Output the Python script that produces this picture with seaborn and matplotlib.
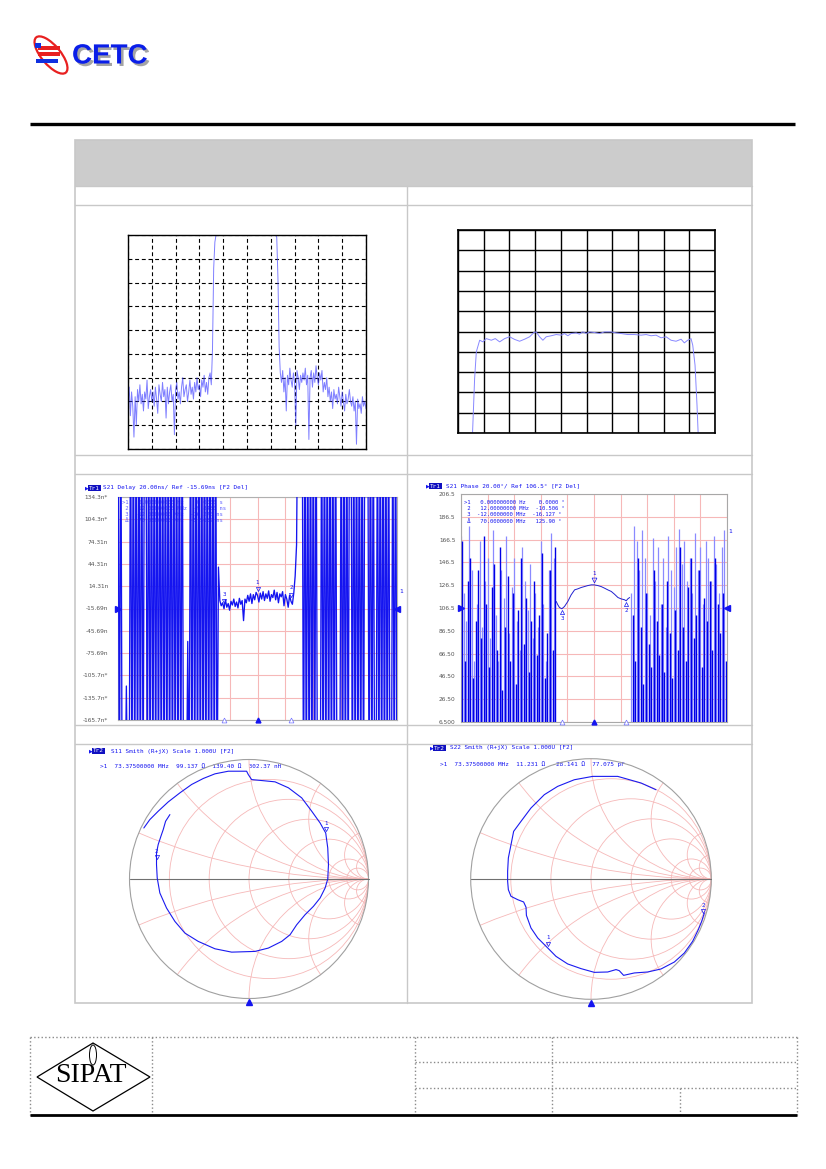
import numpy as np
import matplotlib
matplotlib.use("Agg")
import matplotlib.pyplot as plt
import matplotlib.patheffects as pe
from matplotlib.patches import Circle, Rectangle, Ellipse, Polygon
import seaborn as sns

# ---------------- DATA ----------------
# Panel A: wideband S21 (dB), 10 MHz/div, 20..120 MHz
wb_left_start = 20.0
wb_left_db = [-70, -64, -76, -66, -72, -85, -68, -80, -65, -70,
              -63, -71, -67, -74, -66, -69, -61, -73, -68, -65,
              -70, -66, -72, -64, -69, -75, -63, -67, -70, -62,
              -68, -65, -77, -64, -71, -66, -63, -70, -67, -84,
              -65, -62, -69, -66, -71, -64, -60, -68, -65, -63,
              -70, -66, -61, -67, -64, -69, -62, -66, -60, -65,
              -63, -68, -61, -64, -59, -66, -62, -67, -60, -58, -63]
wb_pass_mhz = [55.5, 56.0, 56.5, 57.0, 60.0, 65.0, 70.0, 75.0, 80.0, 82.0, 82.5, 83.0, 83.5]
wb_pass_db = [-48, -14, -3, 0.1, 0.2, 0.1, 0.25, 0.1, 0.2, 0.1, -1.0, -18, -47]
wb_right_start = 84.0
wb_right_db = [-58, -62, -57, -66, -60, -74, -59, -63, -56, -61,
               -64, -58, -62, -80, -57, -60, -65, -59, -62, -58,
               -61, -56, -63, -59, -86, -60, -57, -64, -58, -62,
               -55, -60, -63, -58, -61, -57, -66, -62, -65, -60,
               -68, -64, -70, -66, -73, -65, -69, -67, -71, -64,
               -68, -72, -66, -70, -74, -67, -71, -69, -65, -70,
               -72, -68, -74, -70, -88, -69, -73, -71, -75, -68,
               -72, -70, -73]

# Panel B: passband S21 (dB), 3 MHz/div, 1 dB/div
pb_mhz = [56.67, 56.94, 57.14, 57.53, 57.91, 58.30, 58.89, 59.35, 59.86, 60.44,
          61.02, 61.61, 62.19, 62.77, 63.36, 63.86, 64.13, 64.52, 64.91, 65.30,
          65.88, 66.46, 67.05, 67.44, 67.82, 68.21, 68.80, 69.18, 69.57, 69.96,
          70.35, 70.93, 71.52, 72.10, 72.88, 73.46, 74.04, 74.82, 75.60, 76.37,
          76.96, 77.54, 78.12, 78.70, 79.29, 79.87, 80.45, 81.04, 81.42, 81.81,
          82.20, 82.40, 82.67, 82.90, 83.06]
pb_db = [-5.3, -2.32, -1.0, -0.43, -0.51, -0.35, -0.43, -0.35, -0.51, -0.35,
         -0.26, -0.39, -0.48, -0.38, -0.26, -0.05, -0.02, -0.26, -0.43, -0.26,
         -0.21, -0.15, -0.18, -0.10, -0.21, -0.10, -0.07, -0.13, -0.02, -0.10,
         -0.02, -0.05, -0.10, -0.02, -0.02, -0.07, -0.10, -0.15, -0.15, -0.18,
         -0.15, -0.21, -0.18, -0.31, -0.26, -0.43, -0.48, -0.38, -0.56, -0.43,
         -0.35, -0.67, -1.66, -3.63, -5.3]

# Panel C: S21 group delay (ns) vs offset frequency (MHz)
dl_left_start = -50.0
dl_left_ns = [300, -300, 300, -300, -300, -300, -120, -300, -300, 300,
              -300, 300, -300, 300, -300, 300, -300, 300, -300, 300,
              300, -300, 300, -300, 300, -300, 300, -300, 300, -300,
              300, -300, 300, -300, 300, -300, 300, -300, 300, -300,
              300, -300, 300, -300, 300, -300, 300, -300, -300, -300,
              -60, -300, 300, -300, 300, -300, 300, -300, 300, -300,
              300, -300, 300, -300, 300, -300, 300, -300, 300, -300,
              300, -300]
dl_mid_start = -14.0
dl_mid_ns = [40, -5, -12, -8, -16, -4, -14, -9, -18, -6,
             -11, -3, -13, -7, -15, -2, -10, -5, -32, -3,
             -8, 2, -6, 4, -9, 3, -4, 6, 2, -7,
             5, -3, 7, -5, 4, -2, 8, -6, 3, -1,
             9, -4, 6, -8, 4, 0, 7, -12, 3, -3,
             -14, 2, -6, -10, 5, 28]
dl_right_start = 14.0
dl_right_ns = [70, 300, 300, 300, 300, -300, 300, -300, 300, -300,
               300, -300, 300, -300, 300, -300, -300, -300, 300, -300,
               300, -300, 300, -300, 300, -300, 300, -300, 300, -300,
               -300, -300, 300, -300, 300, -300, 300, -300, 300, 300,
               -300, 300, -300, 300, -300, 300, -300, 300, -300, 300,
               300, 300, -300, 300, -300, 300, -300, -300, 300, -300,
               300, -300, 300, -300, 300, -300, 300, -300, -300, 300,
               -300, 300, -300]
dl_ticks = [134.31, 104.31, 74.31, 44.31, 14.31, -15.69, -45.69, -75.69, -105.69, -135.69, -165.69]
dl_labels = ["134.3n*", "104.3n*", "74.31n", "44.31n", "14.31n", "-15.69n",
             "-45.69n", "-75.69n", "-105.7n*", "-135.7n*", "-165.7n*"]
dl_ref = -15.69
dl_marker_mhz = [-12.0, 0.0, 12.0]
dl_marker_ns = [-14.0, 2.0, -5.0]
dl_marker_names = ["3", "1", "2"]
dl_table = [">1   0.000000000 Hz    0.0000 s",
            " 2   12.00000000 MHz  -9.8480 ns",
            " 3  -12.0000000 MHz  -16.270 ns",
            " \u0394   70.0000000 MHz  -5.5632 ns"]

# Panel D: S21 phase (deg) vs offset frequency (MHz)
ph_dark_left_start = -49.5
ph_dark_left = [165, 60, 130, 150, 45, 95, 140, 80, 170, 110, 55, 125, 145, 70, 160, 35, 90, 135,
                60, 120, 40, 105, 150, 75, 115, 50, 95, 130, 65, 100, 155, 45, 85, 140, 70, 160]
ph_light_left_start = -50.0
ph_light_left = [170, 120, 95, 178, 140, 60, 110, 165, 90, 130, 150, 80, 175, 100, 60, 140, 115, 170,
                 85, 125, 150, 95, 70, 160, 130, 105, 145, 80, 120, 90, 165, 110, 60, 140, 172, 150]
ph_dark_right_start = 14.5
ph_dark_right = [100, 60, 150, 90, 40, 120, 75, 55, 140, 95, 65, 110, 50, 130, 85, 45, 105, 70,
                 160, 90, 60, 125, 150, 80, 100, 140, 55, 115, 95, 130, 70, 150, 110, 85, 120, 60]
ph_light_right_start = 14.0
ph_light_right = [120, 178, 165, 140, 175, 150, 120, 100, 168, 130, 160, 110, 150, 90, 170, 140, 125, 160,
                  176, 145, 165, 130, 150, 120, 172, 140, 160, 110, 165, 150, 130, 170, 145, 120, 160, 175]
ph_mid_mhz = [-14.2, -13.6, -13.0, -12.1, -11.1, -9.85, -8.6, -7.3, -6.1, -4.8, -3.6, -2.3, -1.0,
              0.0, 1.4, 2.7, 3.95, 5.2, 6.5, 7.7, 9.0, 10.2, 11.5, 12.1, 12.7, 13.4]
ph_mid_deg = [112.2, 109.3, 107.0, 105.8, 107.8, 112.2, 118.0, 122.4, 123.3, 124.5, 125.3, 126.2, 126.8,
              126.8, 126.2, 125.3, 123.9, 122.4, 121.0, 118.6, 115.7, 114.5, 113.7, 112.8, 114.5, 115.7]
ph_ticks = [206.5, 186.5, 166.5, 146.5, 126.5, 106.5, 86.5, 66.5, 46.5, 26.5, 6.5]
ph_labels = ["206.5", "186.5", "166.5", "146.5", "126.5", "106.5", "86.50", "66.50", "46.50", "26.50", "6.500"]
ph_ref = 106.5
ph_marker_mhz = [-12.0, 0.0, 12.0]
ph_marker_deg = [105.8, 126.8, 112.8]
ph_marker_names = ["3", "1", "2"]
ph_table = [">1   0.000000000 Hz    0.0000 \u00b0",
            " 2   12.00000000 MHz  -10.506 \u00b0",
            " 3  -12.0000000 MHz  -16.127 \u00b0",
            " \u0394   70.0000000 MHz   125.90 \u00b0"]

# Panel E/F: Smith charts (reflection coefficient)
s11_re = [-0.880, -0.830, -0.760, -0.676, -0.578, -0.480, -0.383, -0.285, -0.173, -0.020, -0.006, 0.022,
          0.106, 0.218, 0.330, 0.441, 0.525, 0.595, 0.642, 0.659, 0.665, 0.659, 0.637, 0.595, 0.539,
          0.469, 0.399, 0.344, 0.274, 0.162, 0.050, -0.145, -0.285, -0.425, -0.536, -0.620, -0.690,
          -0.746, -0.768, -0.774, -0.774, -0.760, -0.737, -0.718, -0.698, -0.662]
s11_im = [0.427, 0.497, 0.567, 0.645, 0.721, 0.791, 0.841, 0.880, 0.902, 0.902, 0.874, 0.832,
          0.824, 0.813, 0.763, 0.679, 0.567, 0.469, 0.385, 0.260, 0.120, 0.0, -0.075, -0.159, -0.229,
          -0.299, -0.383, -0.466, -0.522, -0.578, -0.606, -0.612, -0.584, -0.522, -0.453, -0.355, -0.243,
          -0.117, 0.008, 0.120, 0.218, 0.288, 0.358, 0.413, 0.483, 0.539]
s11_mk_re = [0.642, -0.774]
s11_mk_im = [0.385, 0.150]
s11_mk_names = ["1", "2"]
s22_re = [0.540, 0.416, 0.222, 0.014, -0.139, -0.277, -0.388, -0.499, -0.582, -0.643, -0.665, -0.687,
          -0.693, -0.693, -0.687, -0.665, -0.609, -0.560, -0.540, -0.537, -0.499, -0.443, -0.360, -0.291,
          -0.194, -0.083, 0.028, 0.139, 0.208, 0.235, 0.271, 0.360, 0.471, 0.582, 0.693, 0.776, 0.845,
          0.892, 0.920, 0.942]
s22_im = [0.742, 0.798, 0.853, 0.853, 0.825, 0.770, 0.701, 0.590, 0.479, 0.396, 0.285, 0.175,
          0.064, -0.019, -0.089, -0.144, -0.172, -0.191, -0.235, -0.302, -0.407, -0.490, -0.573, -0.643,
          -0.706, -0.745, -0.776, -0.773, -0.753, -0.762, -0.801, -0.781, -0.773, -0.748, -0.690, -0.615,
          -0.518, -0.421, -0.352, -0.283]
s22_mk_re = [-0.355, 0.935]
s22_mk_im = [-0.568, -0.300]
s22_mk_names = ["1", "2"]
smith_r = [0.2, 0.5, 1.0, 2.0, 5.0, 10.0]
smith_x = [0.2, 0.5, 1.0, 2.0, 5.0, 10.0]

s11_header = "S11 Smith (R+jX) Scale 1.000U [F2]"
s11_marker = ">1  73.37500000 MHz  99.137 \u03a9  139.40 \u03a9  302.37 nH"
s22_header = "S22 Smith (R+jX) Scale 1.000U [F2]"
s22_marker = ">1  73.37500000 MHz  11.231 \u03a9  -28.141 \u03a9  77.075 pF"
dl_header = "S21 Delay 20.00ns/ Ref -15.69ns [F2 Del]"
ph_header = "S21 Phase 20.00\u00b0/ Ref 106.5\u00b0 [F2 Del]"

# ---------------- FIGURE ----------------
sns.set_theme(style="white")
plt.rcParams["font.family"] = ["DejaVu Sans"]
W, H = 826, 1169
fig = plt.figure(figsize=(W / 100, H / 100), dpi=100, facecolor="white")
MONO = "DejaVu Sans Mono"
BLUE = "#1414f0"
PINK = "#f6b8b8"


def add_px(x0, y0, x1, y1, **kw):
    return fig.add_axes([x0 / W, 1 - y1 / H, (x1 - x0) / W, (y1 - y0) / H], **kw)


def series(start, vals, step):
    return start + step * np.arange(len(vals))


# overlay for page decoration
ov = add_px(0, 0, W, H)
ov.set_xlim(0, W)
ov.set_ylim(H, 0)
ov.axis("off")

# CETC logo
ov.add_patch(Ellipse((51, 55), 46, 19, angle=50, fill=False, ec="#e82020", lw=1.6))
ov.add_patch(Rectangle((38, 46), 22, 4, fc="#e82020", ec="none"))
ov.add_patch(Rectangle((38, 52), 22, 4, fc="#e82020", ec="none"))
ov.add_patch(Rectangle((36, 58.5), 22, 4, fc="#1030e0", ec="none"))
ov.add_patch(Rectangle((35, 43), 6, 5, fc="#1030e0", ec="none"))
ov.text(72, 56.5, "CETC", fontsize=20, fontweight="bold", color="#0a1ee8", va="center", ha="left",
        family="Liberation Sans",
        path_effects=[pe.withSimplePatchShadow(offset=(1.8, -1.8), shadow_rgbFace="#9a9a9a", alpha=0.9)])

# header rule
ov.plot([30, 795], [124, 124], color="black", lw=2.4, solid_capstyle="butt")

# table
GR = "#c8c8c8"
ov.add_patch(Rectangle((75, 140), 677, 46, fc="#cccccc", ec="none"))
ov.add_patch(Rectangle((75, 140), 677, 863, fill=False, ec=GR, lw=1.2))
for yy in [186, 205, 455, 474, 725, 744]:
    ov.plot([75, 752], [yy, yy], color=GR, lw=1.0)
ov.plot([407, 407], [186, 1003], color=GR, lw=1.0)

# footer
FG = "#8a8a8a"
ov.plot([30, 797], [1037, 1037], color=FG, lw=1.0, ls=":")
for xx in [30, 152, 415, 552, 797]:
    ov.plot([xx, xx], [1037, 1115], color=FG, lw=1.0, ls=":")
ov.plot([680, 680], [1088, 1115], color=FG, lw=1.0, ls=":")
for yy in [1062, 1088]:
    ov.plot([415, 797], [yy, yy], color=FG, lw=1.0, ls=":")
ov.plot([30, 797], [1115, 1115], color="black", lw=2.0, solid_capstyle="butt")
ov.add_patch(Polygon([(37, 1077), (93, 1043), (150, 1077), (93, 1111)], closed=True, fill=False,
                     ec="black", lw=0.9))
ov.add_patch(Ellipse((93, 1055), 7, 20, fill=False, ec="black", lw=0.7))
ov.text(91, 1076, "SIPAT", fontsize=20, family="Liberation Serif", ha="center", va="center", color="black")


# VNA headers
def vna_header(x_box, y, tr, text, x_text):
    ov.text(x_box - 4, y, "\u25b6", fontsize=3.5, color=BLUE, va="center", ha="left")
    ov.text(x_box, y, tr, fontsize=4.3, family=MONO, color="white", va="center", ha="left",
            bbox=dict(boxstyle="square,pad=0.15", fc="#1010c0", ec="none"))
    ov.text(x_text, y, text, fontsize=4.3, family=MONO, color=BLUE, va="center", ha="left")


vna_header(89, 488, "Tr1", dl_header, 103)
vna_header(430, 486, "Tr1", ph_header, 446)
vna_header(93, 751, "Tr2", s11_header, 111)
vna_header(434, 748, "Tr2", s22_header, 450)
ov.text(100, 767, s11_marker, fontsize=4.3, family=MONO, color=BLUE, va="center", ha="left")
ov.text(440, 764, s22_marker, fontsize=4.3, family=MONO, color=BLUE, va="center", ha="left")

# ---------- Panel A ----------
axA = add_px(128, 235, 366, 449)
wa_x = np.concatenate([series(wb_left_start, wb_left_db, 0.5), wb_pass_mhz,
                       series(wb_right_start, wb_right_db, 0.5)])
wa_y = np.concatenate([wb_left_db, wb_pass_db, wb_right_db])
sns.lineplot(x=wa_x, y=wa_y, sort=False, estimator=None, color="#3a3aff", alpha=0.65, lw=0.7, ax=axA)
axA.set_xlim(20, 120)
axA.set_ylim(-90, 0)
axA.set_xticks(np.arange(20, 121, 10))
axA.set_yticks(np.arange(-90, 1, 10))
axA.set_xticklabels([])
axA.set_yticklabels([])
axA.tick_params(length=0)
axA.grid(True, color="black", lw=0.8, ls=(0, (3.5, 2.5)))
axA.set_axisbelow(True)
for s in axA.spines.values():
    s.set_color("black")
    s.set_linewidth(1.0)

# ---------- Panel B ----------
axB = add_px(458, 230, 715, 433)
sns.lineplot(x=pb_mhz, y=pb_db, sort=False, estimator=None, color="#8888ff", lw=0.7, ax=axB)
axB.set_xlim(55, 85)
axB.set_ylim(-5, 5)
axB.set_xticks(np.arange(55, 85.1, 3))
axB.set_yticks(np.arange(-5, 5.1, 1))
axB.set_xticklabels([])
axB.set_yticklabels([])
axB.tick_params(length=0)
axB.grid(True, color="black", lw=1.0)
axB.set_axisbelow(True)
for s in axB.spines.values():
    s.set_color("black")
    s.set_linewidth(1.2)

# ---------- Panel C: delay ----------
axC = add_px(118, 497, 397, 720)
for i, line in enumerate(dl_table):
    axC.text(0.015, 0.985 - i * 0.026, line, transform=axC.transAxes, fontsize=4.0, family=MONO,
             color="#6060ff", va="top", ha="left", zorder=1)
dc_x = np.concatenate([series(dl_left_start, dl_left_ns, 0.5), series(dl_mid_start, dl_mid_ns, 0.5),
                       series(dl_right_start, dl_right_ns, 0.5)])
dc_y = np.concatenate([dl_left_ns, dl_mid_ns, dl_right_ns])
sns.lineplot(x=dc_x, y=dc_y, sort=False, estimator=None, color=BLUE, lw=0.95, ax=axC, zorder=3)
axC.set_xlim(-50, 50)
axC.set_ylim(-165.69, 134.31)
axC.set_xticks(np.arange(-50, 51, 10))
axC.set_yticks(dl_ticks)
axC.set_xticklabels([])
axC.set_yticklabels(dl_labels, fontsize=4.2, color="#555555")
axC.tick_params(length=0, pad=7)
axC.grid(True, color=PINK, lw=0.8)
axC.set_axisbelow(True)
for s in axC.spines.values():
    s.set_color("#b0b0b0")
    s.set_linewidth(0.8)
for mx, my, mn in zip(dl_marker_mhz, dl_marker_ns, dl_marker_names):
    axC.plot([mx], [my + 8], marker="v", ms=3, mfc="none", mec=BLUE, mew=0.5, zorder=4)
    axC.text(mx, my + 14, mn, fontsize=4.2, color=BLUE, ha="center", va="bottom", family=MONO, zorder=4)
axC.plot([-50], [dl_ref], marker=">", ms=4, color=BLUE, clip_on=False, zorder=5)
axC.plot([50], [dl_ref], marker="<", ms=4, color=BLUE, clip_on=False, zorder=5)
axC.text(50.8, dl_ref + 23, "1", fontsize=4.5, color=BLUE, family=MONO, va="center", ha="left")
axC.plot([-12, 12], [-165.69, -165.69], ls="none", marker="^", ms=3.5, mfc="white", mec="#7070ff",
         mew=0.5, clip_on=False, zorder=5)
axC.plot([0], [-165.69], marker="^", ms=3.5, color=BLUE, clip_on=False, zorder=5)

# ---------- Panel D: phase ----------
axD = add_px(461, 494, 727, 722)
axD.vlines(series(ph_light_left_start, ph_light_left, 1.0), 0, ph_light_left, colors="#8a8aff", lw=0.9, zorder=2)
axD.vlines(series(ph_light_right_start, ph_light_right, 1.0), 0, ph_light_right, colors="#8a8aff", lw=0.9, zorder=2)
axD.vlines(series(ph_dark_left_start, ph_dark_left, 1.0), 0, ph_dark_left, colors="#0000e6", lw=1.0, zorder=3)
axD.vlines(series(ph_dark_right_start, ph_dark_right, 1.0), 0, ph_dark_right, colors="#0000e6", lw=1.0, zorder=3)
sns.lineplot(x=ph_mid_mhz, y=ph_mid_deg, sort=False, estimator=None, color="#2020d0", lw=0.7, ax=axD, zorder=3)
for i, line in enumerate(ph_table):
    axD.text(0.012, 0.975 - i * 0.028, line, transform=axD.transAxes, fontsize=4.0, family=MONO,
             color=BLUE, va="top", ha="left", zorder=6)
axD.set_xlim(-50, 50)
axD.set_ylim(6.5, 206.5)
axD.set_xticks(np.arange(-50, 51, 10))
axD.set_yticks(ph_ticks)
axD.set_xticklabels([])
axD.set_yticklabels(ph_labels, fontsize=4.2, color="#555555")
axD.tick_params(length=0, pad=4)
axD.grid(True, color=PINK, lw=0.8)
axD.set_axisbelow(True)
for s in axD.spines.values():
    s.set_color("#a8a8a8")
    s.set_linewidth(0.8)
for mx, my, mn in zip(ph_marker_mhz, ph_marker_deg, ph_marker_names):
    if mn == "1":
        axD.plot([mx], [my + 4], marker="v", ms=3.5, mfc="none", mec=BLUE, mew=0.5, zorder=5)
        axD.text(mx, my + 8, mn, fontsize=4.2, color=BLUE, ha="center", va="bottom", family=MONO, zorder=5)
    else:
        axD.plot([mx], [my - 3], marker="^", ms=3, mfc="none", mec=BLUE, mew=0.5, zorder=5)
        axD.text(mx, my - 6, mn, fontsize=4.2, color=BLUE, ha="center", va="top", family=MONO, zorder=5)
axD.plot([-50], [ph_ref], marker=">", ms=4, color=BLUE, clip_on=False, zorder=6)
axD.plot([50], [ph_ref], marker="<", ms=4, color=BLUE, clip_on=False, zorder=6)
axD.text(50.6, 174, "1", fontsize=4.5, color=BLUE, family=MONO, va="center", ha="left")
axD.plot([-12, 12], [6.5, 6.5], ls="none", marker="^", ms=3.5, mfc="white", mec="#7070ff",
         mew=0.5, clip_on=False, zorder=6)
axD.plot([0], [6.5], marker="^", ms=3.5, color=BLUE, clip_on=False, zorder=6)


# ---------- Smith charts ----------
def smith(cx, cy, rad, re, im, mk_re, mk_im, mk_names):
    half = 1.05 * rad
    ax = add_px(cx - half, cy - half, cx + half, cy + half)
    ax.set_xlim(-1.05, 1.05)
    ax.set_ylim(-1.05, 1.05)
    ax.patch.set_alpha(0)
    ax.axis("off")
    clip = Circle((0, 0), 1.0, transform=ax.transData)
    for r in smith_r:
        c = Circle((r / (1 + r), 0), 1 / (1 + r), fill=False, ec=PINK, lw=0.6)
        ax.add_patch(c)
        c.set_clip_path(clip)
    for xv in smith_x:
        for sgn in (1, -1):
            c = Circle((1, sgn / xv), 1 / xv, fill=False, ec=PINK, lw=0.6)
            ax.add_patch(c)
            c.set_clip_path(clip)
    ax.add_patch(Circle((0, 0), 1.0, fill=False, ec="#a0a0a0", lw=0.8))
    ax.plot([-1, 1], [0, 0], color="#707070", lw=0.8)
    sns.lineplot(x=re, y=im, sort=False, estimator=None, color="#1a1af0", lw=0.8, ax=ax)
    for mr, mi, mn in zip(mk_re, mk_im, mk_names):
        ax.plot([mr], [mi + 0.03], marker="v", ms=3, mfc="none", mec=BLUE, mew=0.5)
        ax.text(mr, mi + 0.06, mn, fontsize=4.2, color=BLUE, ha="center", va="bottom", family=MONO)
    ax.plot([0], [-1.03], marker="^", ms=4.5, color=BLUE, clip_on=False)
    return ax


smith(249, 879, 119.5, s11_re, s11_im, s11_mk_re, s11_mk_im, s11_mk_names)
smith(591, 879, 120.3, s22_re, s22_im, s22_mk_re, s22_mk_im, s22_mk_names)

fig.savefig("out.png", dpi=100, facecolor="white")
